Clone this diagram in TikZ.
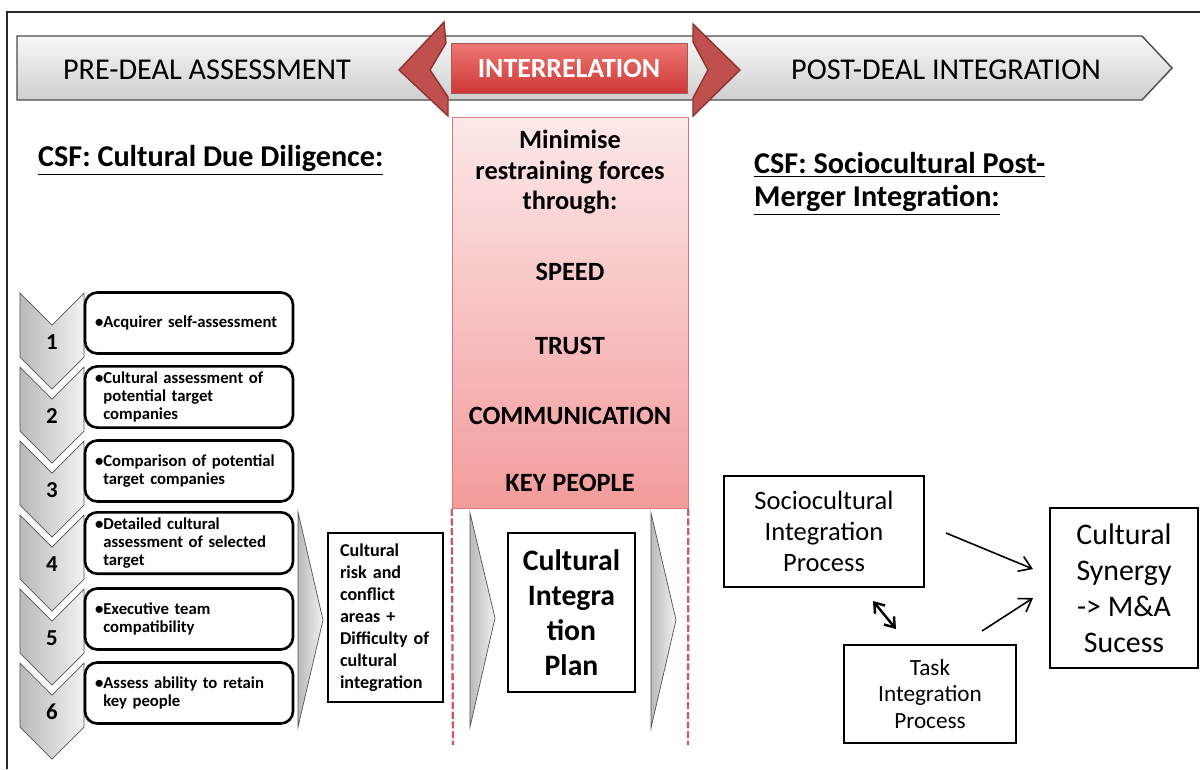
\documentclass[tikz,border=0pt]{standalone}
\usepackage{fontspec}
\setmainfont{Carlito}
\usepackage{tikz}
\usetikzlibrary{positioning,arrows.meta,shapes,backgrounds}
\usepackage{xcolor}
\definecolor{ChevronRed}{RGB}{192, 80, 77}
\definecolor{ChevronRedDark}{RGB}{140, 50, 48}
\definecolor{InterRedTop}{RGB}{238, 120, 115}
\definecolor{InterRedBottom}{RGB}{205, 55, 55}
\definecolor{PanelPinkTop}{RGB}{253, 232, 232}
\definecolor{PanelPinkBottom}{RGB}{243, 155, 155}
\definecolor{PanelPinkEdge}{RGB}{220, 120, 120}
\definecolor{DashRed}{RGB}{200, 90, 100}
\definecolor{Charcoal}{RGB}{40, 40, 45}
\newcommand\fpx[2]{\fontsize{#1pt}{#2pt}\selectfont}

\begin{document}
\begin{tikzpicture}[x=0.02cm,y=-0.02cm,every node/.style={align=center,text=black},
    stepbox/.style={draw,line width=1.5pt,rounded corners=7pt,fill=white,minimum width=4.16cm,minimum height=1.22cm,text width=3.76cm,inner xsep=0.2cm,align=left,font=\fpx{9.5}{10}\bfseries},
    numchev/.style={draw=gray!65!black,left color=gray!55,right color=gray!10},
    plainbox/.style={draw,line width=1.5pt,fill=white},
    redchev/.style={draw=ChevronRedDark,fill=ChevronRed,line width=0.8pt}]
    \useasboundingbox (0,0) rectangle (1200,769);
    % frame
    \draw[Charcoal,line width=1.2pt] (7,769) -- (7,12) -- (1200,12);
    % banner
    \path[draw=gray!60!black,line width=0.8pt,top color=gray!6,bottom color=gray!38] (17,36) -- (1142,36) -- (1172,68) -- (1142,100) -- (17,100) -- cycle;
    \node[font=\fpx{17.2}{20}] (pre) at (207,70) {PRE-DEAL ASSESSMENT};
    \node[font=\fpx{17.2}{20}] (post) at (946,70) {POST-DEAL INTEGRATION};
    \path[redchev] (444,22) -- (399,70) -- (448,116) -- (448,97) -- (430,70) -- (446,43) -- cycle;
    \path[redchev] (693,24) -- (740,70) -- (693,116) -- (693,98) -- (708,70) -- (693,42) -- cycle;
    \node[draw=ChevronRedDark!80,top color=InterRedTop,bottom color=InterRedBottom,minimum width=4.72cm,minimum height=1.0cm,font=\fpx{15.8}{18}\bfseries,text=white] (inter) at (569,68) {INTERRELATION};
    % centre panel
    \node[draw=PanelPinkEdge,top color=PanelPinkTop,bottom color=PanelPinkBottom,minimum width=4.72cm,minimum height=7.82cm] (panel) at (570,313) {};
    \node[font=\fpx{15}{17.6}\bfseries] (minimise) at (570,172) {Minimise\\restraining forces\\through:};
    \node[font=\fpx{15}{17.6}\bfseries] (speed) at (570,272) {SPEED};
    \node[font=\fpx{15}{17.6}\bfseries] (trust) at (570,346) {TRUST};
    \node[font=\fpx{15}{17.6}\bfseries] (comm) at (570,416) {COMMUNICATION};
    \node[font=\fpx{15}{17.6}\bfseries] (keyppl) at (570,483) {KEY PEOPLE};
    % headers
    \node[anchor=west,font=\fpx{17.2}{20}\bfseries] (csfleft) at (32,160) {\underline{CSF: Cultural Due Diligence:}};
    \node[anchor=north west,align=left,font=\fpx{17.2}{18.7}\bfseries] (csfright) at (748,146) {\underline{CSF: Sociocultural Post-}\\\underline{Merger Integration:}};
    % numbered steps
    \foreach \t in {293,367,441,515,589,663}
      \path[numchev] (20,\t) -- (52,\t+32) -- (84,\t) -- (84,\t+64) -- (52,\t+96) -- (20,\t+64) -- cycle;
    \node[font=\fpx{13}{15}\bfseries] (num1) at (52,342) {1};
    \node[font=\fpx{13}{15}\bfseries] (num2) at (52,416) {2};
    \node[font=\fpx{13}{15}\bfseries] (num3) at (52,490) {3};
    \node[font=\fpx{13}{15}\bfseries] (num4) at (52,564) {4};
    \node[font=\fpx{13}{15}\bfseries] (num5) at (52,638) {5};
    \node[font=\fpx{13}{15}\bfseries] (num6) at (52,712) {6};
    \node[stepbox] (step1) at (189,323) {•Acquirer self-assessment};
    \node[stepbox] (step2) at (189,397) {•Cultural assessment of\\\phantom{•}potential target\\\phantom{•}companies};
    \node[stepbox] (step3) at (189,471) {•Comparison of potential\\\phantom{•}target companies};
    \node[stepbox] (step4) at (189,543) {•Detailed cultural\\\phantom{•}assessment of selected\\\phantom{•}target};
    \node[stepbox] (step5) at (189,619) {•Executive team\\\phantom{•}compatibility};
    \node[stepbox] (step6) at (189,693) {•Assess ability to retain\\\phantom{•}key people};
    % outcome arrows
    \path[numchev] (298,512) -- (323,620) -- (298,727) -- cycle;
    \path[numchev] (470,513) -- (495,618) -- (470,727) -- cycle;
    \path[numchev] (651,513) -- (676,620) -- (651,728) -- cycle;
    \node[plainbox,minimum width=2.3cm,minimum height=3.38cm,text width=1.82cm,align=left,font=\fpx{10.3}{12.5}\bfseries] (risk) at (385.5,617.5) {Cultural\\risk and\\conflict\\areas +\\Difficulty of\\cultural\\integration};
    \node[plainbox,minimum width=2.54cm,minimum height=3.18cm,font=\fpx{16.9}{19.8}\bfseries] (plan) at (571.5,612.5) {Cultural\\Integra\\tion\\Plan};
    \coordinate (dashl) at (453,745);
    \coordinate (dashr) at (688,745);
    \draw[DashRed,line width=1.3pt,dash pattern=on 4pt off 1.5pt] (panel.south west) -- (dashl);
    \draw[DashRed,line width=1.3pt,dash pattern=on 4pt off 1.5pt] (panel.south east) -- (dashr);
    % post-merger integration
    \node[plainbox,minimum width=4cm,minimum height=2.22cm,font=\fpx{15.1}{17.6}] (socio) at (824,531.5) {Sociocultural\\Integration\\Process};
    \node[plainbox,minimum width=3.44cm,minimum height=1.96cm,font=\fpx{13.2}{15.3}] (task) at (930,694) {Task\\Integration\\Process};
    \node[plainbox,minimum width=2.96cm,minimum height=3.2cm,font=\fpx{17}{20.4}] (synergy) at (1124,588) {Cultural\\Synergy\\-> M\&A\\Sucess};
    \coordinate (socioout) at (946,533);
    \coordinate (taskout) at (982,631);
    \coordinate (synin1) at (1033,569);
    \coordinate (synin2) at (1033,598);
    \coordinate (linktop) at (873,601);
    \coordinate (linkbot) at (896,629);
    \draw[-{Straight Barb[length=2.4mm,width=3.2mm]},line width=0.9pt] (socioout) -- (synin1);
    \draw[-{Straight Barb[length=2.4mm,width=3.2mm]},line width=0.9pt] (taskout) -- (synin2);
    \draw[{Straight Barb[length=1.8mm,width=2.6mm]}-{Straight Barb[length=1.8mm,width=2.6mm]},line width=1.4pt] (linktop) -- (linkbot);
  \end{tikzpicture}
\end{document}
